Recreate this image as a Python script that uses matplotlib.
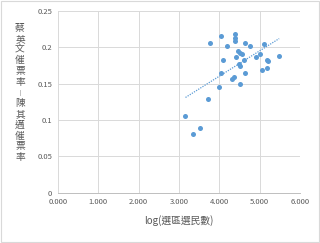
import numpy as np
import matplotlib
matplotlib.use("Agg")
import matplotlib.pyplot as plt

plt.rcParams['font.family'] = ['Noto Sans CJK TC', 'DejaVu Sans']

# log(選區選民數) vs 催票率差
log_voters = [3.77, 4.05, 4.39, 4.39, 4.38, 4.20, 4.63, 4.75, 5.11, 4.46,
              4.50, 4.56, 4.40, 4.09, 4.61, 4.90, 5.00, 5.19, 5.20, 5.48,
              4.49, 4.50, 5.05, 5.19, 4.03, 4.63, 4.36, 4.32, 4.00, 4.52,
              3.71, 3.16, 3.52, 3.35]
rate_diff = [0.205, 0.215, 0.218, 0.213, 0.208, 0.201, 0.206, 0.202, 0.204, 0.195,
             0.192, 0.190, 0.186, 0.183, 0.182, 0.186, 0.191, 0.183, 0.181, 0.188,
             0.177, 0.174, 0.169, 0.172, 0.165, 0.165, 0.159, 0.156, 0.146, 0.149,
             0.129, 0.106, 0.089, 0.081]

xticks = [0, 1, 2, 3, 4, 5, 6]
yticks = [0, 0.05, 0.1, 0.15, 0.2, 0.25]
ytick_labels = ["0", "0.05", "0.1", "0.15", "0.2", "0.25"]
ylabel = "蔡英文催票率-陳其邁催票率"
xlabel = "log(選區選民數)"

blue = "#5B9BD5"
grid = "#D9D9D9"
txt = "#595959"

fig = plt.figure(figsize=(3.2, 2.43), dpi=100)
ax = fig.add_axes([0.181, 0.206, 0.757, 0.750])

x = np.array(log_voters)
y = np.array(rate_diff)
ax.scatter(x, y, s=13, color=blue, zorder=3, linewidths=0)

k, b = np.polyfit(x, y, 1)
xs = np.array([x.min(), x.max()])
ax.plot(xs, k * xs + b, color=blue, lw=0.9, ls=(0, (1, 1)), zorder=2)

ax.set_xlim(0, 6)
ax.set_ylim(0, 0.25)
ax.set_xticks(xticks)
ax.set_xticklabels([f"{v:.3f}" for v in xticks])
ax.set_yticks(yticks)
ax.set_yticklabels(ytick_labels)
ax.tick_params(length=0, labelsize=5.5, labelcolor=txt, pad=4)
ax.grid(True, color=grid, lw=0.7)
ax.set_axisbelow(True)
for s in ['top', 'right', 'left']:
    ax.spines[s].set_visible(False)
ax.spines['bottom'].set_color("#BFBFBF")
ax.spines['bottom'].set_linewidth(0.7)

ax.set_xlabel(xlabel, fontsize=7, color=txt, labelpad=6)

# vertical, upright y label (one character per row)
H = 243.0
for i, ch in enumerate(ylabel):
    py = 28 + i * 10.75
    size = 7
    if ch == "-":
        ch, size = "|", 3.5
    fig.text(20 / 320, 1 - py / H, ch, fontsize=size, color=txt, ha='center', va='center')

fig.patches.append(plt.Rectangle((0.003, 0.003), 0.994, 0.994, transform=fig.transFigure,
                                 fill=False, edgecolor="#D9D9D9", lw=0.8))

fig.savefig("out.png", dpi=100)
